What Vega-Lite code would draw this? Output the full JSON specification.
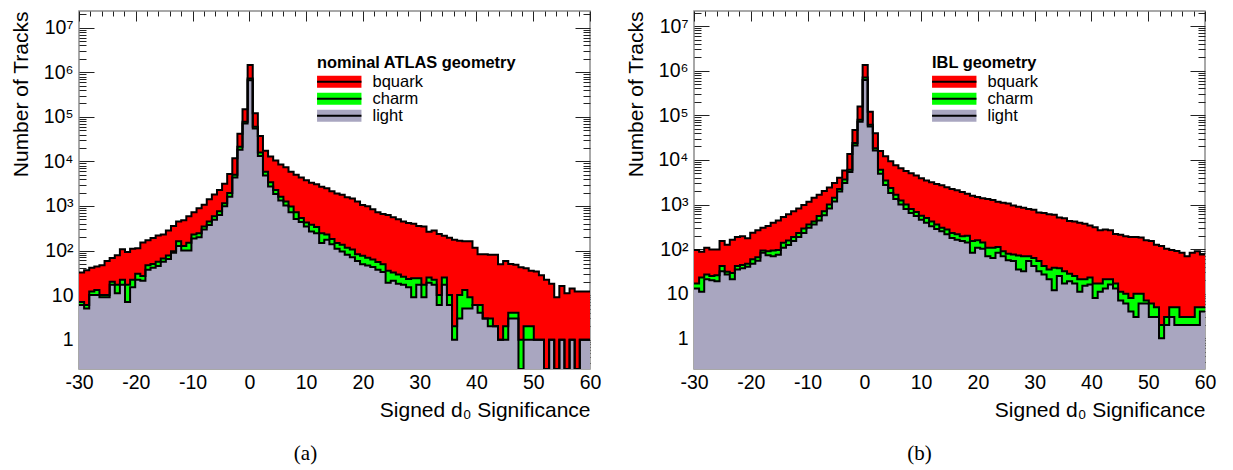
{
  "$schema": "https://vega.github.io/schema/vega-lite/v6.json",
  "padding": {"left": 10, "top": 9, "right": 0, "bottom": 0},
  "bounds": "flush",
  "spacing": 104,
  "resolve": {
    "scale": {"x": "independent", "y": "independent", "color": "independent", "stroke": "independent"},
    "legend": {"color": "independent", "stroke": "independent"}
  },
  "config": {
    "font": "Liberation Sans",
    "view": {"stroke": "#8c8c8c", "strokeWidth": 1.5},
    "axis": {"grid": false, "domain": false, "labelColor": "#000", "titleColor": "#000", "tickColor": "#222", "tickWidth": 1, "labelFont": "Liberation Sans", "titleFont": "Liberation Sans", "titleFontWeight": "normal"},
    "legend": {"padding": 0, "labelFont": "Liberation Sans", "titleFont": "Liberation Sans", "labelColor": "#000", "titleColor": "#000", "titleLimit": 400, "labelLimit": 300}
  },
  "datasets": {
    "atlas": [
      {"lo": -30, "hi": -29.1, "total": 32, "lc": 7, "light": 6},
      {"lo": -29.1, "hi": -28.2, "total": 36, "lc": 6, "light": 5},
      {"lo": -28.2, "hi": -27.3, "total": 41, "lc": 12, "light": 10},
      {"lo": -27.3, "hi": -26.4, "total": 44, "lc": 13, "light": 10},
      {"lo": -26.4, "hi": -25.5, "total": 47, "lc": 10, "light": 9},
      {"lo": -25.5, "hi": -24.6, "total": 58, "lc": 10, "light": 9},
      {"lo": -24.6, "hi": -23.7, "total": 68, "lc": 20, "light": 17},
      {"lo": -23.7, "hi": -22.8, "total": 78, "lc": 17, "light": 11},
      {"lo": -22.8, "hi": -21.9, "total": 107, "lc": 22, "light": 17},
      {"lo": -21.9, "hi": -21, "total": 93, "lc": 17, "light": 7},
      {"lo": -21, "hi": -20.1, "total": 110, "lc": 22, "light": 15},
      {"lo": -20.1, "hi": -19.2, "total": 112, "lc": 30, "light": 22},
      {"lo": -19.2, "hi": -18.3, "total": 151, "lc": 27, "light": 21},
      {"lo": -18.3, "hi": -17.4, "total": 170, "lc": 47, "light": 37},
      {"lo": -17.4, "hi": -16.5, "total": 191, "lc": 50, "light": 41},
      {"lo": -16.5, "hi": -15.6, "total": 219, "lc": 56, "light": 45},
      {"lo": -15.6, "hi": -14.7, "total": 229, "lc": 66, "light": 56},
      {"lo": -14.7, "hi": -13.8, "total": 282, "lc": 77, "light": 65},
      {"lo": -13.8, "hi": -12.9, "total": 355, "lc": 96, "light": 89},
      {"lo": -12.9, "hi": -12, "total": 447, "lc": 162, "light": 126},
      {"lo": -12, "hi": -11.1, "total": 479, "lc": 126, "light": 100},
      {"lo": -11.1, "hi": -10.2, "total": 589, "lc": 150, "light": 100},
      {"lo": -10.2, "hi": -9.3, "total": 724, "lc": 229, "light": 186},
      {"lo": -9.3, "hi": -8.4, "total": 891, "lc": 245, "light": 200},
      {"lo": -8.4, "hi": -7.5, "total": 1070, "lc": 347, "light": 295},
      {"lo": -7.5, "hi": -6.6, "total": 1410, "lc": 447, "light": 372},
      {"lo": -6.6, "hi": -5.7, "total": 1820, "lc": 589, "light": 490},
      {"lo": -5.7, "hi": -4.8, "total": 2290, "lc": 760, "light": 630},
      {"lo": -4.8, "hi": -3.9, "total": 3160, "lc": 1150, "light": 980},
      {"lo": -3.9, "hi": -3, "total": 5250, "lc": 1950, "light": 1620},
      {"lo": -3, "hi": -2.1, "total": 11700, "lc": 5000, "light": 4360},
      {"lo": -2.1, "hi": -1.2, "total": 41700, "lc": 21400, "light": 18200},
      {"lo": -1.2, "hi": -0.3, "total": 148000, "lc": 77600, "light": 70800},
      {"lo": -0.3, "hi": 0.6, "total": 1450000, "lc": 724000, "light": 661000},
      {"lo": 0.6, "hi": 1.5, "total": 120000, "lc": 60000, "light": 55000},
      {"lo": 1.5, "hi": 2.4, "total": 37000, "lc": 15800, "light": 13200},
      {"lo": 2.4, "hi": 3.3, "total": 17400, "lc": 5900, "light": 4800},
      {"lo": 3.3, "hi": 4.2, "total": 12900, "lc": 3390, "light": 2750},
      {"lo": 4.2, "hi": 5.1, "total": 10500, "lc": 2290, "light": 1860},
      {"lo": 5.1, "hi": 6, "total": 8500, "lc": 1620, "light": 1320},
      {"lo": 6, "hi": 6.9, "total": 7400, "lc": 1260, "light": 1020},
      {"lo": 6.9, "hi": 7.8, "total": 5900, "lc": 977, "light": 724},
      {"lo": 7.8, "hi": 8.7, "total": 5000, "lc": 724, "light": 513},
      {"lo": 8.7, "hi": 9.6, "total": 4370, "lc": 537, "light": 437},
      {"lo": 9.6, "hi": 10.5, "total": 3800, "lc": 427, "light": 347},
      {"lo": 10.5, "hi": 11.4, "total": 3310, "lc": 380, "light": 269},
      {"lo": 11.4, "hi": 12.3, "total": 3090, "lc": 339, "light": 245},
      {"lo": 12.3, "hi": 13.2, "total": 2690, "lc": 245, "light": 148},
      {"lo": 13.2, "hi": 14.1, "total": 2510, "lc": 229, "light": 174},
      {"lo": 14.1, "hi": 15, "total": 2140, "lc": 182, "light": 138},
      {"lo": 15, "hi": 15.9, "total": 1900, "lc": 148, "light": 110},
      {"lo": 15.9, "hi": 16.8, "total": 1780, "lc": 135, "light": 95},
      {"lo": 16.8, "hi": 17.7, "total": 1580, "lc": 115, "light": 81},
      {"lo": 17.7, "hi": 18.6, "total": 1480, "lc": 105, "light": 71},
      {"lo": 18.6, "hi": 19.5, "total": 1260, "lc": 83, "light": 58},
      {"lo": 19.5, "hi": 20.4, "total": 1050, "lc": 76, "light": 49},
      {"lo": 20.4, "hi": 21.3, "total": 980, "lc": 69, "light": 46},
      {"lo": 21.3, "hi": 22.2, "total": 850, "lc": 63, "light": 43},
      {"lo": 22.2, "hi": 23.1, "total": 724, "lc": 55, "light": 37},
      {"lo": 23.1, "hi": 24, "total": 660, "lc": 49, "light": 33},
      {"lo": 24, "hi": 24.9, "total": 630, "lc": 35, "light": 19},
      {"lo": 24.9, "hi": 25.8, "total": 562, "lc": 32, "light": 21},
      {"lo": 25.8, "hi": 26.7, "total": 501, "lc": 29, "light": 18},
      {"lo": 26.7, "hi": 27.6, "total": 447, "lc": 26, "light": 17},
      {"lo": 27.6, "hi": 28.5, "total": 417, "lc": 23, "light": 15},
      {"lo": 28.5, "hi": 29.4, "total": 398, "lc": 24, "light": 9},
      {"lo": 29.4, "hi": 30.3, "total": 355, "lc": 24, "light": 17},
      {"lo": 30.3, "hi": 31.2, "total": 347, "lc": 17, "light": 9},
      {"lo": 31.2, "hi": 32.1, "total": 263, "lc": 25, "light": 19},
      {"lo": 32.1, "hi": 33, "total": 282, "lc": 22, "light": 17},
      {"lo": 33, "hi": 33.9, "total": 234, "lc": 10, "light": 6},
      {"lo": 33.9, "hi": 34.8, "total": 214, "lc": 25, "light": 17},
      {"lo": 34.8, "hi": 35.7, "total": 195, "lc": 10, "light": 6},
      {"lo": 35.7, "hi": 36.6, "total": 174, "lc": 2, "light": 1},
      {"lo": 36.6, "hi": 37.5, "total": 166, "lc": 10, "light": 3},
      {"lo": 37.5, "hi": 38.4, "total": 162, "lc": 13, "light": 5},
      {"lo": 38.4, "hi": 39.3, "total": 162, "lc": 9, "light": 5},
      {"lo": 39.3, "hi": 40.2, "total": 115, "lc": 6, "light": 6},
      {"lo": 40.2, "hi": 41.1, "total": 83, "lc": 6, "light": 4},
      {"lo": 41.1, "hi": 42, "total": 83, "lc": 3, "light": 3},
      {"lo": 42, "hi": 42.9, "total": 81, "lc": 3, "light": 2},
      {"lo": 42.9, "hi": 43.8, "total": 81, "lc": 2, "light": 2},
      {"lo": 43.8, "hi": 44.7, "total": 49, "lc": 1, "light": 1},
      {"lo": 44.7, "hi": 45.6, "total": 58, "lc": 2, "light": 1},
      {"lo": 45.6, "hi": 46.5, "total": 50, "lc": 4, "light": 3},
      {"lo": 46.5, "hi": 47.4, "total": 48, "lc": 4, "light": 3},
      {"lo": 47.4, "hi": 48.3, "total": 42, "lc": 1, "light": 0},
      {"lo": 48.3, "hi": 49.2, "total": 40, "lc": 2, "light": 1},
      {"lo": 49.2, "hi": 50.1, "total": 35, "lc": 2, "light": 1},
      {"lo": 50.1, "hi": 51, "total": 34, "lc": 1, "light": 1},
      {"lo": 51, "hi": 51.9, "total": 28, "lc": 1, "light": 1},
      {"lo": 51.9, "hi": 52.8, "total": 22, "lc": 0, "light": 0},
      {"lo": 52.8, "hi": 53.7, "total": 18, "lc": 1, "light": 1},
      {"lo": 53.7, "hi": 54.6, "total": 9, "lc": 0, "light": 0},
      {"lo": 54.6, "hi": 55.5, "total": 16, "lc": 1, "light": 1},
      {"lo": 55.5, "hi": 56.4, "total": 11, "lc": 0, "light": 0},
      {"lo": 56.4, "hi": 57.3, "total": 14, "lc": 1, "light": 1},
      {"lo": 57.3, "hi": 58.2, "total": 12, "lc": 0, "light": 0},
      {"lo": 58.2, "hi": 59.1, "total": 12, "lc": 1, "light": 1},
      {"lo": 59.1, "hi": 60, "total": 12, "lc": 1, "light": 1}
    ],
    "ibl": [
      {"lo": -30, "hi": -29.1, "total": 95, "lc": 17, "light": 13},
      {"lo": -29.1, "hi": -28.2, "total": 87, "lc": 23, "light": 11},
      {"lo": -28.2, "hi": -27.3, "total": 107, "lc": 27, "light": 21},
      {"lo": -27.3, "hi": -26.4, "total": 98, "lc": 25, "light": 20},
      {"lo": -26.4, "hi": -25.5, "total": 98, "lc": 26, "light": 19},
      {"lo": -25.5, "hi": -24.6, "total": 151, "lc": 42, "light": 32},
      {"lo": -24.6, "hi": -23.7, "total": 126, "lc": 31, "light": 27},
      {"lo": -23.7, "hi": -22.8, "total": 162, "lc": 29, "light": 21},
      {"lo": -22.8, "hi": -21.9, "total": 186, "lc": 42, "light": 35},
      {"lo": -21.9, "hi": -21, "total": 195, "lc": 44, "light": 37},
      {"lo": -21, "hi": -20.1, "total": 174, "lc": 47, "light": 40},
      {"lo": -20.1, "hi": -19.2, "total": 234, "lc": 59, "light": 47},
      {"lo": -19.2, "hi": -18.3, "total": 263, "lc": 66, "light": 55},
      {"lo": -18.3, "hi": -17.4, "total": 302, "lc": 93, "light": 83},
      {"lo": -17.4, "hi": -16.5, "total": 331, "lc": 89, "light": 73},
      {"lo": -16.5, "hi": -15.6, "total": 389, "lc": 93, "light": 69},
      {"lo": -15.6, "hi": -14.7, "total": 437, "lc": 95, "light": 75},
      {"lo": -14.7, "hi": -13.8, "total": 525, "lc": 138, "light": 107},
      {"lo": -13.8, "hi": -12.9, "total": 603, "lc": 155, "light": 123},
      {"lo": -12.9, "hi": -12, "total": 708, "lc": 186, "light": 151},
      {"lo": -12, "hi": -11.1, "total": 813, "lc": 229, "light": 186},
      {"lo": -11.1, "hi": -10.2, "total": 977, "lc": 288, "light": 229},
      {"lo": -10.2, "hi": -9.3, "total": 1150, "lc": 355, "light": 302},
      {"lo": -9.3, "hi": -8.4, "total": 1410, "lc": 417, "light": 355},
      {"lo": -8.4, "hi": -7.5, "total": 1660, "lc": 550, "light": 437},
      {"lo": -7.5, "hi": -6.6, "total": 2000, "lc": 708, "light": 575},
      {"lo": -6.6, "hi": -5.7, "total": 2400, "lc": 1000, "light": 813},
      {"lo": -5.7, "hi": -4.8, "total": 3020, "lc": 1410, "light": 1170},
      {"lo": -4.8, "hi": -3.9, "total": 3980, "lc": 2240, "light": 1950},
      {"lo": -3.9, "hi": -3, "total": 5750, "lc": 3630, "light": 3020},
      {"lo": -3, "hi": -2.1, "total": 13500, "lc": 6030, "light": 5370},
      {"lo": -2.1, "hi": -1.2, "total": 46800, "lc": 24000, "light": 21000},
      {"lo": -1.2, "hi": -0.3, "total": 158000, "lc": 79400, "light": 72000},
      {"lo": -0.3, "hi": 0.6, "total": 1350000, "lc": 708000, "light": 617000},
      {"lo": 0.6, "hi": 1.5, "total": 120000, "lc": 61700, "light": 56200},
      {"lo": 1.5, "hi": 2.4, "total": 39800, "lc": 18200, "light": 16200},
      {"lo": 2.4, "hi": 3.3, "total": 15800, "lc": 6030, "light": 4900},
      {"lo": 3.3, "hi": 4.2, "total": 12000, "lc": 3470, "light": 2750},
      {"lo": 4.2, "hi": 5.1, "total": 9330, "lc": 2340, "light": 1820},
      {"lo": 5.1, "hi": 6, "total": 7590, "lc": 1660, "light": 1320},
      {"lo": 6, "hi": 6.9, "total": 6460, "lc": 1230, "light": 1000},
      {"lo": 6.9, "hi": 7.8, "total": 5620, "lc": 1000, "light": 794},
      {"lo": 7.8, "hi": 8.7, "total": 5010, "lc": 794, "light": 646},
      {"lo": 8.7, "hi": 9.6, "total": 4470, "lc": 676, "light": 550},
      {"lo": 9.6, "hi": 10.5, "total": 3890, "lc": 562, "light": 457},
      {"lo": 10.5, "hi": 11.4, "total": 3470, "lc": 501, "light": 389},
      {"lo": 11.4, "hi": 12.3, "total": 3160, "lc": 417, "light": 324},
      {"lo": 12.3, "hi": 13.2, "total": 2880, "lc": 355, "light": 282},
      {"lo": 13.2, "hi": 14.1, "total": 2690, "lc": 302, "light": 251},
      {"lo": 14.1, "hi": 15, "total": 2450, "lc": 275, "light": 214},
      {"lo": 15, "hi": 15.9, "total": 2240, "lc": 229, "light": 178},
      {"lo": 15.9, "hi": 16.8, "total": 2090, "lc": 214, "light": 162},
      {"lo": 16.8, "hi": 17.7, "total": 1910, "lc": 195, "light": 151},
      {"lo": 17.7, "hi": 18.6, "total": 1740, "lc": 200, "light": 141},
      {"lo": 18.6, "hi": 19.5, "total": 1580, "lc": 151, "light": 83},
      {"lo": 19.5, "hi": 20.4, "total": 1480, "lc": 158, "light": 107},
      {"lo": 20.4, "hi": 21.3, "total": 1380, "lc": 141, "light": 102},
      {"lo": 21.3, "hi": 22.2, "total": 1320, "lc": 107, "light": 69},
      {"lo": 22.2, "hi": 23.1, "total": 1260, "lc": 107, "light": 63},
      {"lo": 23.1, "hi": 24, "total": 1150, "lc": 112, "light": 83},
      {"lo": 24, "hi": 24.9, "total": 1100, "lc": 89, "light": 69},
      {"lo": 24.9, "hi": 25.8, "total": 1050, "lc": 79, "light": 56},
      {"lo": 25.8, "hi": 26.7, "total": 955, "lc": 76, "light": 54},
      {"lo": 26.7, "hi": 27.6, "total": 891, "lc": 72, "light": 35},
      {"lo": 27.6, "hi": 28.5, "total": 851, "lc": 69, "light": 32},
      {"lo": 28.5, "hi": 29.4, "total": 794, "lc": 69, "light": 54},
      {"lo": 29.4, "hi": 30.3, "total": 759, "lc": 63, "light": 42},
      {"lo": 30.3, "hi": 31.2, "total": 661, "lc": 54, "light": 32},
      {"lo": 31.2, "hi": 32.1, "total": 646, "lc": 42, "light": 27},
      {"lo": 32.1, "hi": 33, "total": 603, "lc": 35, "light": 21},
      {"lo": 33, "hi": 33.9, "total": 589, "lc": 38, "light": 12},
      {"lo": 33.9, "hi": 34.8, "total": 513, "lc": 37, "light": 25},
      {"lo": 34.8, "hi": 35.7, "total": 490, "lc": 32, "light": 17},
      {"lo": 35.7, "hi": 36.6, "total": 427, "lc": 28, "light": 19},
      {"lo": 36.6, "hi": 37.5, "total": 417, "lc": 25, "light": 17},
      {"lo": 37.5, "hi": 38.4, "total": 389, "lc": 21, "light": 11},
      {"lo": 38.4, "hi": 39.3, "total": 372, "lc": 21, "light": 15},
      {"lo": 39.3, "hi": 40.2, "total": 339, "lc": 23, "light": 16},
      {"lo": 40.2, "hi": 41.1, "total": 309, "lc": 17, "light": 8},
      {"lo": 41.1, "hi": 42, "total": 263, "lc": 17, "light": 11},
      {"lo": 42, "hi": 42.9, "total": 275, "lc": 21, "light": 13},
      {"lo": 42.9, "hi": 43.8, "total": 263, "lc": 21, "light": 16},
      {"lo": 43.8, "hi": 44.7, "total": 219, "lc": 17, "light": 13},
      {"lo": 44.7, "hi": 45.6, "total": 209, "lc": 11, "light": 7},
      {"lo": 45.6, "hi": 46.5, "total": 195, "lc": 10, "light": 6},
      {"lo": 46.5, "hi": 47.4, "total": 186, "lc": 8, "light": 4},
      {"lo": 47.4, "hi": 48.3, "total": 186, "lc": 10, "light": 3},
      {"lo": 48.3, "hi": 49.2, "total": 182, "lc": 10, "light": 6},
      {"lo": 49.2, "hi": 50.1, "total": 158, "lc": 7, "light": 6},
      {"lo": 50.1, "hi": 51, "total": 151, "lc": 6, "light": 3},
      {"lo": 51, "hi": 51.9, "total": 126, "lc": 5, "light": 3},
      {"lo": 51.9, "hi": 52.8, "total": 117, "lc": 2, "light": 1},
      {"lo": 52.8, "hi": 53.7, "total": 102, "lc": 3, "light": 2},
      {"lo": 53.7, "hi": 54.6, "total": 95, "lc": 5, "light": 3},
      {"lo": 54.6, "hi": 55.5, "total": 91, "lc": 5, "light": 2},
      {"lo": 55.5, "hi": 56.4, "total": 83, "lc": 3, "light": 2},
      {"lo": 56.4, "hi": 57.3, "total": 69, "lc": 3, "light": 2},
      {"lo": 57.3, "hi": 58.2, "total": 83, "lc": 3, "light": 2},
      {"lo": 58.2, "hi": 59.1, "total": 89, "lc": 5, "light": 2},
      {"lo": 59.1, "hi": 60, "total": 76, "lc": 5, "light": 4}
    ]
  },
  "hconcat": [
    {
      "width": 511,
      "height": 358,
      "data": {"name": "atlas"},
      "transform": [{"fold": ["lo", "hi"], "as": ["side", "edge"]}],
      "title": {"text": "(a)", "orient": "bottom", "anchor": "middle", "dx": -29, "offset": 22, "font": "Liberation Serif", "fontSize": 21, "fontWeight": "normal", "color": "#000"},
      "resolve": {"axis": {"x": "independent", "y": "independent"}},
      "layer": [
        {
          "mark": {"type": "area", "clip": true},
          "encoding": {
            "x": {"field": "edge", "type": "quantitative", "scale": {"domain": [-30, 60], "nice": false, "zero": false},
              "axis": {"orient": "bottom", "values": [-30, -20, -10, 0, 10, 20, 30, 40, 50, 60], "ticks": false, "labelFontSize": 19.5, "labelPadding": 4, "labelExpr": "toString(datum.value)", "labelFlush": false, "title": "Signed d₀ Significance", "titleFontSize": 21, "titleAnchor": "end", "titlePadding": 8}},
            "y": {"field": "total", "type": "quantitative", "stack": null, "scale": {"type": "log", "domain": [0.22, 23700000], "nice": false, "clamp": true},
              "axis": {"orient": "left", "values": [1, 10, 100, 1000, 10000, 100000, 1000000, 10000000], "ticks": false, "labelFontSize": 19.5, "labelPadding": 6, "labelExpr": "datum.value < 5 ? '1' : datum.value < 50 ? '10' : '10' + ['', '', '²', '³', '⁴', '⁵', '⁶', '⁷'][round(log(datum.value) / LN10)]", "title": "Number of Tracks", "titleFontSize": 21, "titleAnchor": "end", "titlePadding": 11}},
            "color": {"datum": "bquark", "type": "nominal", "scale": {"domain": ["bquark", "charm", "light"], "range": ["#ff0000", "#00ff00", "#a9a6c0"]},
              "legend": {"orient": "none", "legendX": 238, "legendY": 44, "title": "nominal ATLAS geometry", "titleFontSize": 16.4, "titleFontWeight": "bold", "titlePadding": 2, "labelFontSize": 16.5, "labelOffset": 25, "symbolType": "M-3.7,-1H3.7V1H-3.7Z", "symbolSize": 144, "symbolStrokeWidth": 0, "symbolOpacity": 1, "symbolOffset": 14, "rowPadding": 0}}
          }
        },
        {
          "mark": {"type": "area", "clip": true},
          "encoding": {
            "x": {"field": "edge", "type": "quantitative", "scale": {"domain": [-30, 60], "nice": false, "zero": false},
              "axis": {"orient": "top", "values": [-30, -20, -10, 0, 10, 20, 30, 40, 50, 60], "labels": false, "tickSize": -10, "title": null}},
            "y": {"field": "lc", "type": "quantitative", "stack": null, "scale": {"type": "log", "domain": [0.22, 23700000], "nice": false, "clamp": true},
              "axis": {"orient": "left", "values": [1, 10, 100, 1000, 10000, 100000, 1000000, 10000000], "labels": false, "tickSize": -15, "title": null}},
            "color": {"datum": "charm", "type": "nominal", "scale": {"domain": ["bquark", "charm", "light"], "range": ["#ff0000", "#00ff00", "#a9a6c0"]}}
          }
        },
        {
          "mark": {"type": "area", "clip": true},
          "encoding": {
            "x": {"field": "edge", "type": "quantitative", "scale": {"domain": [-30, 60], "nice": false, "zero": false},
              "axis": {"orient": "top", "values": [-28, -26, -24, -22, -18, -16, -14, -12, -8, -6, -4, -2, 2, 4, 6, 8, 12, 14, 16, 18, 22, 24, 26, 28, 32, 34, 36, 38, 42, 44, 46, 48, 52, 54, 56, 58], "labels": false, "tickSize": -5, "title": null}},
            "y": {"field": "light", "type": "quantitative", "stack": null, "scale": {"type": "log", "domain": [0.22, 23700000], "nice": false, "clamp": true},
              "axis": {"orient": "left", "values": [0.3, 0.4, 0.5, 0.6, 0.7, 0.8, 0.9, 2, 3, 4, 5, 6, 7, 8, 9, 20, 30, 40, 50, 60, 70, 80, 90, 200, 300, 400, 500, 600, 700, 800, 900, 2000, 3000, 4000, 5000, 6000, 7000, 8000, 9000, 20000, 30000, 40000, 50000, 60000, 70000, 80000, 90000, 200000, 300000, 400000, 500000, 600000, 700000, 800000, 900000, 2000000, 3000000, 4000000, 5000000, 6000000, 7000000, 8000000, 9000000, 20000000], "labels": false, "tickSize": -7, "title": null}},
            "color": {"datum": "light", "type": "nominal", "scale": {"domain": ["bquark", "charm", "light"], "range": ["#ff0000", "#00ff00", "#a9a6c0"]}}
          }
        },
        {
          "mark": {"type": "line", "clip": true, "strokeWidth": 2, "strokeJoin": "miter"},
          "encoding": {
            "x": {"field": "edge", "type": "quantitative", "scale": {"domain": [-30, 60], "nice": false, "zero": false}, "axis": null},
            "y": {"field": "total", "type": "quantitative", "scale": {"type": "log", "domain": [0.22, 23700000], "nice": false, "clamp": true},
              "axis": {"orient": "right", "values": [1, 10, 100, 1000, 10000, 100000, 1000000, 10000000], "labels": false, "tickSize": -15, "title": null}},
            "stroke": {"datum": "b", "type": "nominal", "scale": {"domain": ["b", "c", "l"], "range": ["#000000", "#000000", "#000000"]},
              "legend": {"orient": "none", "legendX": 238, "legendY": 44, "title": "nominal ATLAS geometry", "titleOpacity": 0, "titleFontSize": 16.4, "titleFontWeight": "bold", "titlePadding": 2, "labelFontSize": 16.5, "labelExpr": "''", "labelOffset": 25, "symbolType": "M-3.7,0H3.7", "symbolSize": 144, "symbolStrokeWidth": 2, "symbolOffset": 14, "rowPadding": 0}}
          }
        },
        {
          "mark": {"type": "line", "clip": true, "strokeWidth": 2, "strokeJoin": "miter"},
          "encoding": {
            "x": {"field": "edge", "type": "quantitative", "scale": {"domain": [-30, 60], "nice": false, "zero": false}, "axis": null},
            "y": {"field": "lc", "type": "quantitative", "scale": {"type": "log", "domain": [0.22, 23700000], "nice": false, "clamp": true},
              "axis": {"orient": "right", "values": [0.3, 0.4, 0.5, 0.6, 0.7, 0.8, 0.9, 2, 3, 4, 5, 6, 7, 8, 9, 20, 30, 40, 50, 60, 70, 80, 90, 200, 300, 400, 500, 600, 700, 800, 900, 2000, 3000, 4000, 5000, 6000, 7000, 8000, 9000, 20000, 30000, 40000, 50000, 60000, 70000, 80000, 90000, 200000, 300000, 400000, 500000, 600000, 700000, 800000, 900000, 2000000, 3000000, 4000000, 5000000, 6000000, 7000000, 8000000, 9000000, 20000000], "labels": false, "tickSize": -7, "title": null}},
            "stroke": {"datum": "c", "type": "nominal", "scale": {"domain": ["b", "c", "l"], "range": ["#000000", "#000000", "#000000"]}}
          }
        },
        {
          "mark": {"type": "line", "clip": true, "strokeWidth": 2, "strokeJoin": "miter"},
          "encoding": {
            "x": {"field": "edge", "type": "quantitative", "scale": {"domain": [-30, 60], "nice": false, "zero": false}, "axis": null},
            "y": {"field": "light", "type": "quantitative", "scale": {"type": "log", "domain": [0.22, 23700000], "nice": false, "clamp": true}, "axis": null},
            "stroke": {"datum": "l", "type": "nominal", "scale": {"domain": ["b", "c", "l"], "range": ["#000000", "#000000", "#000000"]}}
          }
        }
      ]
    },
    {
      "width": 511,
      "height": 358,
      "data": {"name": "ibl"},
      "transform": [{"fold": ["lo", "hi"], "as": ["side", "edge"]}],
      "title": {"text": "(b)", "orient": "bottom", "anchor": "middle", "dx": -30, "offset": 22, "font": "Liberation Serif", "fontSize": 21, "fontWeight": "normal", "color": "#000"},
      "resolve": {"axis": {"x": "independent", "y": "independent"}},
      "layer": [
        {
          "mark": {"type": "area", "clip": true},
          "encoding": {
            "x": {"field": "edge", "type": "quantitative", "scale": {"domain": [-30, 60], "nice": false, "zero": false},
              "axis": {"orient": "bottom", "values": [-30, -20, -10, 0, 10, 20, 30, 40, 50, 60], "ticks": false, "labelFontSize": 19.5, "labelPadding": 4, "labelExpr": "toString(datum.value)", "labelFlush": false, "title": "Signed d₀ Significance", "titleFontSize": 21, "titleAnchor": "end", "titlePadding": 8}},
            "y": {"field": "total", "type": "quantitative", "stack": null, "scale": {"type": "log", "domain": [0.205, 21800000], "nice": false, "clamp": true},
              "axis": {"orient": "left", "values": [1, 10, 100, 1000, 10000, 100000, 1000000, 10000000], "ticks": false, "labelFontSize": 19.5, "labelPadding": 6, "labelExpr": "datum.value < 5 ? '1' : datum.value < 50 ? '10' : '10' + ['', '', '²', '³', '⁴', '⁵', '⁶', '⁷'][round(log(datum.value) / LN10)]", "title": "Number of Tracks", "titleFontSize": 21, "titleAnchor": "end", "titlePadding": 11}},
            "color": {"datum": "bquark", "type": "nominal", "scale": {"domain": ["bquark", "charm", "light"], "range": ["#ff0000", "#00ff00", "#a9a6c0"]},
              "legend": {"orient": "none", "legendX": 238, "legendY": 44, "title": "IBL geometry", "titleFontSize": 16.4, "titleFontWeight": "bold", "titlePadding": 2, "labelFontSize": 16.5, "labelOffset": 25, "symbolType": "M-3.7,-1H3.7V1H-3.7Z", "symbolSize": 144, "symbolStrokeWidth": 0, "symbolOpacity": 1, "symbolOffset": 14, "rowPadding": 0}}
          }
        },
        {
          "mark": {"type": "area", "clip": true},
          "encoding": {
            "x": {"field": "edge", "type": "quantitative", "scale": {"domain": [-30, 60], "nice": false, "zero": false},
              "axis": {"orient": "top", "values": [-30, -20, -10, 0, 10, 20, 30, 40, 50, 60], "labels": false, "tickSize": -10, "title": null}},
            "y": {"field": "lc", "type": "quantitative", "stack": null, "scale": {"type": "log", "domain": [0.205, 21800000], "nice": false, "clamp": true},
              "axis": {"orient": "left", "values": [1, 10, 100, 1000, 10000, 100000, 1000000, 10000000], "labels": false, "tickSize": -15, "title": null}},
            "color": {"datum": "charm", "type": "nominal", "scale": {"domain": ["bquark", "charm", "light"], "range": ["#ff0000", "#00ff00", "#a9a6c0"]}}
          }
        },
        {
          "mark": {"type": "area", "clip": true},
          "encoding": {
            "x": {"field": "edge", "type": "quantitative", "scale": {"domain": [-30, 60], "nice": false, "zero": false},
              "axis": {"orient": "top", "values": [-28, -26, -24, -22, -18, -16, -14, -12, -8, -6, -4, -2, 2, 4, 6, 8, 12, 14, 16, 18, 22, 24, 26, 28, 32, 34, 36, 38, 42, 44, 46, 48, 52, 54, 56, 58], "labels": false, "tickSize": -5, "title": null}},
            "y": {"field": "light", "type": "quantitative", "stack": null, "scale": {"type": "log", "domain": [0.205, 21800000], "nice": false, "clamp": true},
              "axis": {"orient": "left", "values": [0.3, 0.4, 0.5, 0.6, 0.7, 0.8, 0.9, 2, 3, 4, 5, 6, 7, 8, 9, 20, 30, 40, 50, 60, 70, 80, 90, 200, 300, 400, 500, 600, 700, 800, 900, 2000, 3000, 4000, 5000, 6000, 7000, 8000, 9000, 20000, 30000, 40000, 50000, 60000, 70000, 80000, 90000, 200000, 300000, 400000, 500000, 600000, 700000, 800000, 900000, 2000000, 3000000, 4000000, 5000000, 6000000, 7000000, 8000000, 9000000, 20000000], "labels": false, "tickSize": -7, "title": null}},
            "color": {"datum": "light", "type": "nominal", "scale": {"domain": ["bquark", "charm", "light"], "range": ["#ff0000", "#00ff00", "#a9a6c0"]}}
          }
        },
        {
          "mark": {"type": "line", "clip": true, "strokeWidth": 2, "strokeJoin": "miter"},
          "encoding": {
            "x": {"field": "edge", "type": "quantitative", "scale": {"domain": [-30, 60], "nice": false, "zero": false}, "axis": null},
            "y": {"field": "total", "type": "quantitative", "scale": {"type": "log", "domain": [0.205, 21800000], "nice": false, "clamp": true},
              "axis": {"orient": "right", "values": [1, 10, 100, 1000, 10000, 100000, 1000000, 10000000], "labels": false, "tickSize": -15, "title": null}},
            "stroke": {"datum": "b", "type": "nominal", "scale": {"domain": ["b", "c", "l"], "range": ["#000000", "#000000", "#000000"]},
              "legend": {"orient": "none", "legendX": 238, "legendY": 44, "title": "IBL geometry", "titleOpacity": 0, "titleFontSize": 16.4, "titleFontWeight": "bold", "titlePadding": 2, "labelFontSize": 16.5, "labelExpr": "''", "labelOffset": 25, "symbolType": "M-3.7,0H3.7", "symbolSize": 144, "symbolStrokeWidth": 2, "symbolOffset": 14, "rowPadding": 0}}
          }
        },
        {
          "mark": {"type": "line", "clip": true, "strokeWidth": 2, "strokeJoin": "miter"},
          "encoding": {
            "x": {"field": "edge", "type": "quantitative", "scale": {"domain": [-30, 60], "nice": false, "zero": false}, "axis": null},
            "y": {"field": "lc", "type": "quantitative", "scale": {"type": "log", "domain": [0.205, 21800000], "nice": false, "clamp": true},
              "axis": {"orient": "right", "values": [0.3, 0.4, 0.5, 0.6, 0.7, 0.8, 0.9, 2, 3, 4, 5, 6, 7, 8, 9, 20, 30, 40, 50, 60, 70, 80, 90, 200, 300, 400, 500, 600, 700, 800, 900, 2000, 3000, 4000, 5000, 6000, 7000, 8000, 9000, 20000, 30000, 40000, 50000, 60000, 70000, 80000, 90000, 200000, 300000, 400000, 500000, 600000, 700000, 800000, 900000, 2000000, 3000000, 4000000, 5000000, 6000000, 7000000, 8000000, 9000000, 20000000], "labels": false, "tickSize": -7, "title": null}},
            "stroke": {"datum": "c", "type": "nominal", "scale": {"domain": ["b", "c", "l"], "range": ["#000000", "#000000", "#000000"]}}
          }
        },
        {
          "mark": {"type": "line", "clip": true, "strokeWidth": 2, "strokeJoin": "miter"},
          "encoding": {
            "x": {"field": "edge", "type": "quantitative", "scale": {"domain": [-30, 60], "nice": false, "zero": false}, "axis": null},
            "y": {"field": "light", "type": "quantitative", "scale": {"type": "log", "domain": [0.205, 21800000], "nice": false, "clamp": true}, "axis": null},
            "stroke": {"datum": "l", "type": "nominal", "scale": {"domain": ["b", "c", "l"], "range": ["#000000", "#000000", "#000000"]}}
          }
        }
      ]
    }
  ]
}
